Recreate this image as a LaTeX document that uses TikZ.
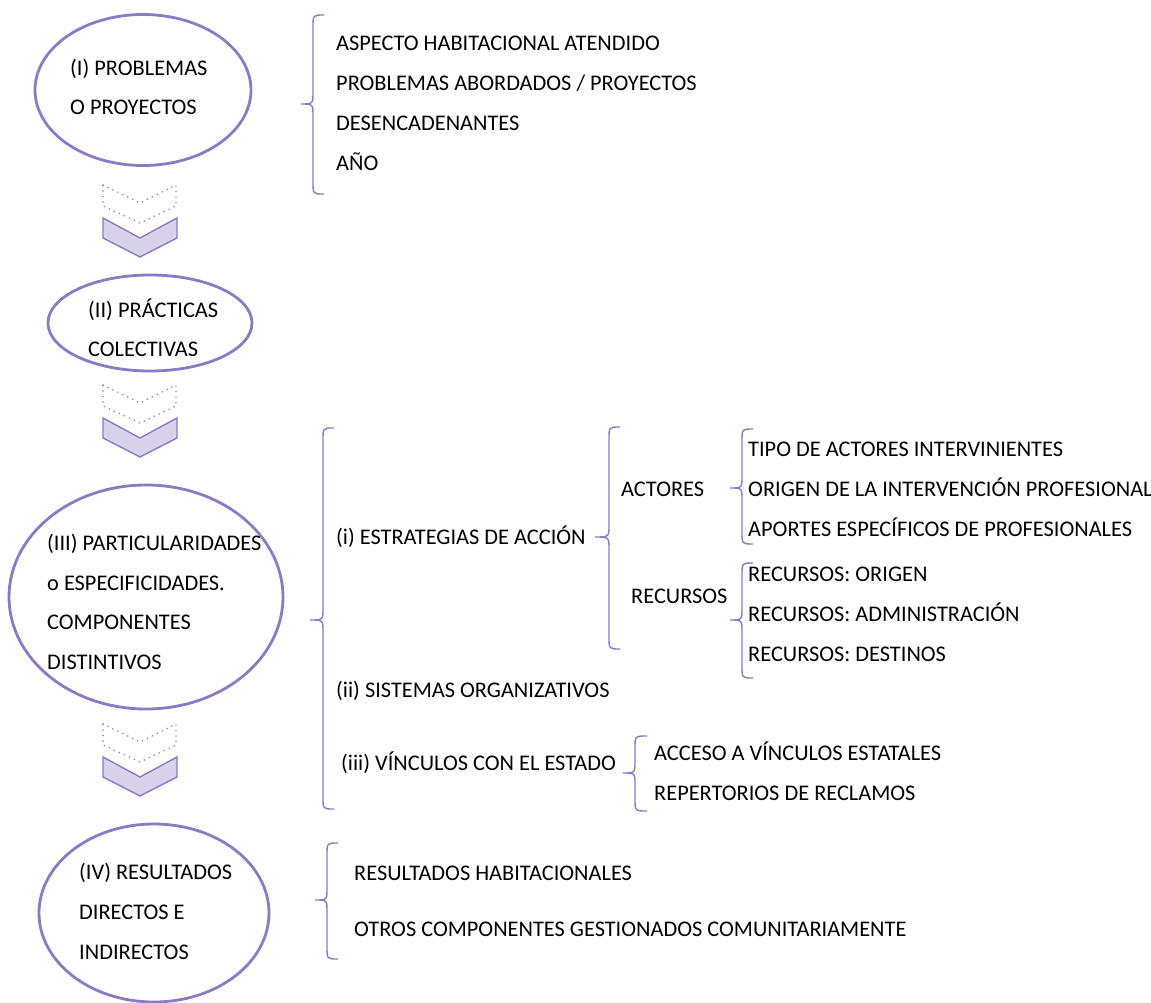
\documentclass[tikz,border=0pt]{standalone}
\usepackage{fontspec}
\setmainfont{Carlito}
\usetikzlibrary{shapes.geometric}

\definecolor{lilac}{RGB}{139,122,196}
\definecolor{lilacfill}{RGB}{217,210,235}

% left curly brace: #1 end x, #2 spine x, #3 tip x, #4 top y, #5 tip y, #6 bottom y
\newcommand\drawcurly[6]{%
  \draw[curly] (#1,#4) .. controls (#2,#4) .. (#2,#4+12)
    -- (#2,#5-12) .. controls (#2,#5) .. (#3,#5)
    .. controls (#2,#5) .. (#2,#5+12)
    -- (#2,#6-12) .. controls (#2,#6) .. (#1,#6);}

% pair of chevrons (dotted outline above, filled below), shifted down by #1
\newcommand\chevronpair[1]{%
  \begin{scope}[shift={(0,#1)}]
    \draw[chevdots] (103,185) -- (140,203) -- (176,185) -- (176,206)
      -- (140,223) -- (103,206) -- cycle;
    \draw[chevsolid] (103,218) -- (140,238) -- (177,218) -- (177,238)
      -- (140,257) -- (103,238) -- cycle;
  \end{scope}}

\tikzset{
  oval/.style={ellipse, draw=lilac, line width=2.8pt, inner sep=0pt},
  curly/.style={draw=lilac, line width=1.4pt},
  chevdots/.style={draw=lilac, line width=1.7pt, dash pattern=on 0pt off 5.5pt, line cap=round},
  chevsolid/.style={draw=lilac, fill=lilacfill, line width=1.4pt, line join=miter},
  txt/.style={anchor=base west, inner sep=0pt, yshift=-7pt, font=\fontsize{22.35}{26}\selectfont},
}

\begin{document}
\begin{tikzpicture}[x=1pt, y=-1pt]
\useasboundingbox (0,0) rectangle (1151,1003);

% stages
\node[oval, minimum width=216pt, minimum height=151pt] (stageI) at (143,90) {};
\node[oval, minimum width=204pt, minimum height=96pt] (stageII) at (150,323) {};
\node[oval, minimum width=274pt, minimum height=224pt] (stageIII) at (146,597) {};
\node[oval, minimum width=230pt, minimum height=178pt] (stageIV) at (154,913) {};

\node[txt] (e1a) at (70,69) {(I) PROBLEMAS};
\node[txt] (e1b) at (70,108) {O PROYECTOS};
\node[txt] (e2a) at (88,310) {(II) PRÁCTICAS};
\node[txt] (e2b) at (88,349) {COLECTIVAS};
\node[txt] (e3a) at (47,543) {(III) PARTICULARIDADES};
\node[txt] (e3b) at (47,583) {o ESPECIFICIDADES.};
\node[txt] (e3c) at (47,622) {COMPONENTES};
\node[txt] (e3d) at (47,662) {DISTINTIVOS};
\node[txt] (e4a) at (79,872) {(IV) RESULTADOS};
\node[txt] (e4b) at (79,912) {DIRECTOS E};
\node[txt] (e4c) at (79,952) {INDIRECTOS};

% chevrons between stages
\chevronpair{0}
\chevronpair{200}
\chevronpair{539}

% stage I details
\drawcurly{324}{313}{301}{15}{104}{194}
\node[txt] (t1a) at (336,44) {ASPECTO HABITACIONAL ATENDIDO};
\node[txt] (t1b) at (336,84) {PROBLEMAS ABORDADOS / PROYECTOS};
\node[txt] (t1c) at (336,124) {DESENCADENANTES};
\node[txt] (t1d) at (336,164) {AÑO};

% stage III details
\drawcurly{334}{323}{310}{428}{620}{809}
\node[txt] (s1) at (336,537) {(i) ESTRATEGIAS DE ACCIÓN};
\node[txt] (s2) at (336,690) {(ii) SISTEMAS ORGANIZATIVOS};
\node[txt] (s3) at (341,763) {(iii) VÍNCULOS CON EL ESTADO};

\drawcurly{620}{609}{595}{427}{537}{649}
\node[txt] (act) at (621,489) {ACTORES};
\node[txt] (rec) at (631,596) {RECURSOS};

\drawcurly{753}{742}{730}{429}{488}{544}
\node[txt] (a1) at (748,449) {TIPO DE ACTORES INTERVINIENTES};
\node[txt] (a2) at (748,489) {ORIGEN DE LA INTERVENCIÓN PROFESIONAL};
\node[txt] (a3) at (748,529) {APORTES ESPECÍFICOS DE PROFESIONALES};

\drawcurly{753}{742}{730}{563}{620}{678}
\node[txt] (r1) at (748,574) {RECURSOS: ORIGEN};
\node[txt] (r2) at (748,614) {RECURSOS: ADMINISTRACIÓN};
\node[txt] (r3) at (748,654) {RECURSOS: DESTINOS};

\drawcurly{647}{635}{623}{736}{773}{811}
\node[txt] (v1) at (654,753) {ACCESO A VÍNCULOS ESTATALES};
\node[txt] (v2) at (654,793) {REPERTORIOS DE RECLAMOS};

% stage IV details
\drawcurly{338}{327}{315}{843}{900}{959}
\node[txt] (res1) at (354,873) {RESULTADOS HABITACIONALES};
\node[txt] (res2) at (354,929) {OTROS COMPONENTES GESTIONADOS COMUNITARIAMENTE};

\end{tikzpicture}
\end{document}
